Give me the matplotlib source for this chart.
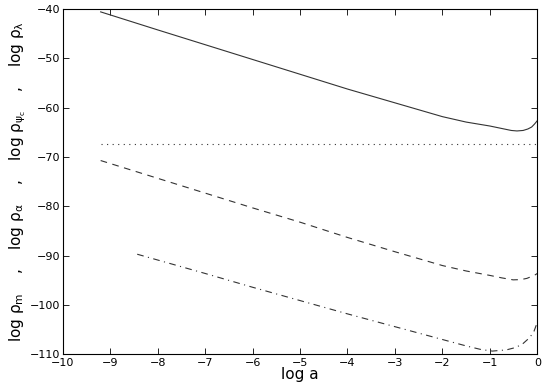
import matplotlib
matplotlib.use("Agg")
import matplotlib.pyplot as plt

# log a values and log densities
x_lambda = [-9.2, -8, -7, -6, -5, -4, -3, -2, -1.5, -1.0, -0.7, -0.55, -0.43, -0.3, -0.2, -0.12, -0.06, 0.0]
y_lambda = [-40.55, -44.2, -47.2, -50.2, -53.2, -56.2, -59.0, -61.8, -62.9, -63.7, -64.3, -64.6, -64.7, -64.6, -64.3, -63.9, -63.3, -62.6]

x_psic = [-9.2, 0.0]
y_psic = [-67.4, -67.4]

x_alpha = [-9.2, -8, -7, -6, -5, -4, -3, -2, -1.5, -1.0, -0.75, -0.51, -0.35, -0.22, -0.12, -0.05, 0.0]
y_alpha = [-70.7, -74.3, -77.3, -80.3, -83.2, -86.3, -89.2, -92.0, -93.1, -94.0, -94.5, -94.9, -94.85, -94.6, -94.2, -93.9, -93.6]

x_m = [-8.43, -7, -6, -5, -4, -3, -2, -1.5, -1.2, -0.95, -0.65, -0.45, -0.3, -0.16, -0.07, -0.02]
y_m = [-89.7, -93.6, -96.4, -99.1, -101.8, -104.4, -107.0, -108.3, -109.0, -109.35, -109.1, -108.6, -107.8, -106.6, -105.3, -104.0]

xticks = list(range(-10, 1))
yticks = list(range(-110, -39, 10))

fig = plt.figure(figsize=(5.45, 3.82), dpi=100)
ax = fig.add_axes([0.115, 0.0725, 0.871, 0.9035])

lc = "#333333"
ax.plot(x_lambda, y_lambda, color=lc, lw=0.8, ls="-")
ax.plot(x_psic, y_psic, color=lc, lw=0.8, ls=(0, (1, 4)))
ax.plot(x_alpha, y_alpha, color=lc, lw=0.8, ls=(0, (6, 5)))
ax.plot(x_m, y_m, color=lc, lw=0.8, ls=(0, (6, 4, 1, 4)))

ax.set_xlim(-10, 0)
ax.set_ylim(-110, -40)
ax.set_xticks(xticks)
ax.set_yticks(yticks)
ax.tick_params(direction="in", top=True, right=True, labelsize=8, length=4, width=0.6)
ax.tick_params(axis="x", pad=2.5)
ax.tick_params(axis="y", pad=2)
for s in ax.spines.values():
    s.set_linewidth(0.8)

W, H = 545.0, 382.0
fig.text(300 / W, 1 - 375 / H, "log a", fontsize=11, ha="center", va="center")
fig.text(18 / W, 1 - 182 / H,
         r"log $\mathregular{\rho_{m}}$    ,    log $\mathregular{\rho_{\alpha}}$    ,    "
         r"log $\mathregular{\rho_{\psi_c}}$    ,    log $\mathregular{\rho_{\lambda}}$",
         fontsize=11, ha="center", va="center", rotation=90)

fig.savefig("out.png", dpi=100)
